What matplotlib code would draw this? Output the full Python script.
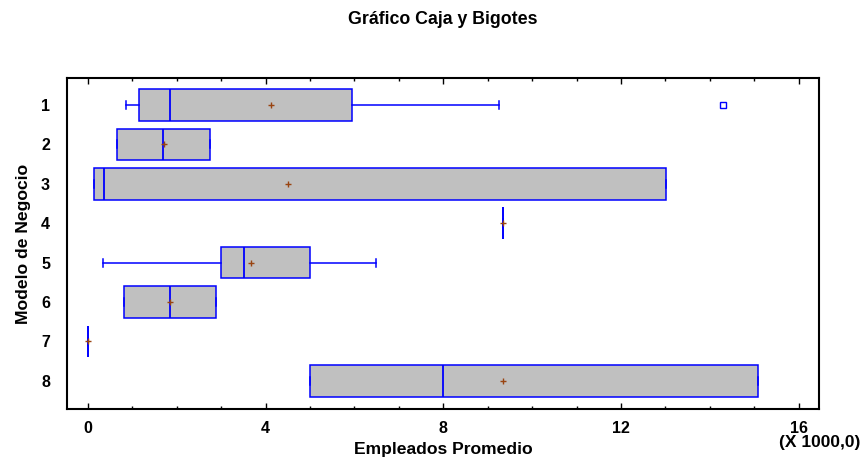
import matplotlib
matplotlib.use("Agg")
import matplotlib.pyplot as plt
from matplotlib.ticker import MultipleLocator

plt.rcParams['font.family'] = ['Liberation Sans', 'DejaVu Sans']
plt.rcParams['font.weight'] = 'bold'

# valores en miles de empleados
modelos = ["1", "2", "3", "4", "5", "6", "7", "8"]
whis_lo = [0.85, 0.65, 0.13, 9.35, 0.34, 0.80, 0.0, 5.01]
q1 = [1.15, 0.65, 0.13, 9.35, 3.00, 0.80, 0.0, 5.01]
mediana = [1.85, 1.69, 0.36, 9.35, 3.51, 1.85, 0.0, 8.00]
media = [4.11, 1.70, 4.50, 9.35, 3.66, 1.85, 0.0, 9.35]
q3 = [5.94, 2.74, 13.01, 9.35, 5.01, 2.89, 0.0, 15.08]
whis_hi = [9.26, 2.74, 13.01, 9.35, 6.49, 2.89, 0.0, 15.08]
atipicos = [[14.29], [], [], [], [], [], [], []]
xticks = [0, 4, 8, 12, 16]

stats = []
for i in range(len(modelos)):
    stats.append(dict(label=modelos[i], whislo=whis_lo[i], q1=q1[i], med=mediana[i],
                      q3=q3[i], whishi=whis_hi[i], mean=media[i], fliers=atipicos[i]))

azul = "#0000FF"
fig = plt.figure(figsize=(8.65, 4.62), dpi=100)
ax = fig.add_axes([0.0771, 0.1141, 0.8697, 0.7177])

ax.bxp(stats, positions=range(1, 9), widths=0.8, orientation='horizontal',
       patch_artist=True, showmeans=True, capwidths=0.2,
       boxprops=dict(facecolor="#C0C0C0", edgecolor=azul, linewidth=1.1),
       medianprops=dict(color=azul, linewidth=1.3),
       whiskerprops=dict(color=azul, linewidth=1.1),
       capprops=dict(color=azul, linewidth=1.1),
       meanprops=dict(marker='+', markeredgecolor="#994411", markersize=5, markeredgewidth=1),
       flierprops=dict(marker='s', markerfacecolor='none', markeredgecolor=azul,
                       markersize=4.5, markeredgewidth=1))

ax.set_xlim(-0.48, 16.46)
ax.set_ylim(8.72, 0.31)
ax.set_xticks(xticks)
ax.set_xticklabels([str(t) for t in xticks])
ax.xaxis.set_minor_locator(MultipleLocator(1))
ax.tick_params(axis='x', which='both', direction='in', top=True, bottom=True,
               labelsize=11.5, pad=8.5, width=1)
ax.tick_params(axis='x', which='major', length=4.3)
ax.tick_params(axis='x', which='minor', length=2.2)
ax.tick_params(axis='y', length=0, labelsize=11.5, pad=12)
for s in ax.spines.values():
    s.set_linewidth(1.5)

ax.set_xlabel("Empleados Promedio", fontsize=12.6, fontweight='bold', labelpad=4.5)
ax.set_ylabel("Modelo de Negocio", fontsize=12.6, fontweight='bold', labelpad=7)
fig.text(0.512, 1 - 20 / 462, "Gráfico Caja y Bigotes", ha='center', va='center',
         fontsize=12.8, fontweight='bold')
fig.text(0.995, 1 - 443 / 462, "(X 1000,0)", ha='right', va='center',
         fontsize=12.5, fontweight='bold')

fig.savefig("out.png", dpi=100)
